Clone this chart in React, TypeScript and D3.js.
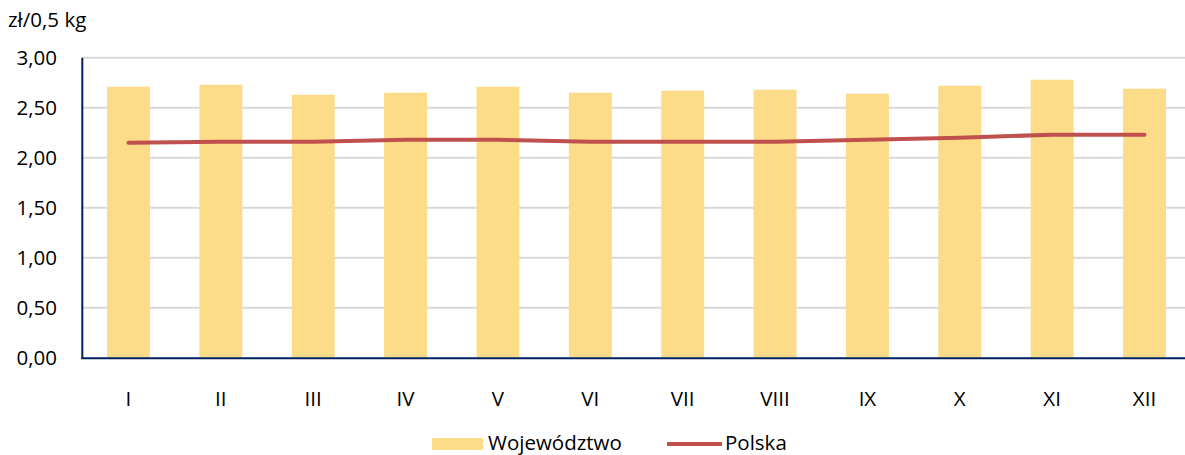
import React from "react";
import * as d3 from "d3";

const categories = ["I", "II", "III", "IV", "V", "VI", "VII", "VIII", "IX", "X", "XI", "XII"];
const wojewodztwo = [2.71, 2.73, 2.63, 2.65, 2.71, 2.65, 2.67, 2.68, 2.64, 2.72, 2.78, 2.69];
const polska = [2.15, 2.16, 2.16, 2.18, 2.18, 2.16, 2.16, 2.16, 2.18, 2.2, 2.23, 2.23];
const yTicks = [0, 0.5, 1, 1.5, 2, 2.5, 3];
const unitLabel = "zł/0,5 kg";
const seriesNames = ["Województwo", "Polska"];

const W = 1185;
const H = 455;
const FONT = "'Open Sans', sans-serif";
const FS = 20.5;
const BAR = "#FCDC88";
const LINE = "#C0504D";
const AXIS = "#002060";

export default function App() {
  const left = 82.3;
  const right = 1190.7;
  const top = 57.7;
  const bottom = 357.7;
  const x = d3.scaleBand<string>().domain(categories).range([left, right]).paddingInner(0.535).paddingOuter(0.2675);
  const y = d3.scaleLinear().domain([0, 3]).range([bottom, top]);
  const fmt = (v: number) => v.toFixed(2).replace(".", ",");
  const cx = (c: string) => (x(c) as number) + x.bandwidth() / 2;
  const line = d3
    .line<number>()
    .x((_, i) => cx(categories[i]))
    .y((v) => y(v));

  return (
    <svg width={W} height={H} style={{ position: "absolute", left: 0, top: 0, background: "#fff" }} fontFamily={FONT}>
      <text x={8} y={27} fontSize={FS} fill="#000">{unitLabel}</text>
      {yTicks.map((t) => (
        <g key={t}>
          {t > 0 && <line x1={left} x2={W} y1={y(t)} y2={y(t)} stroke="#D9D9D9" strokeWidth={2} />}
          <text x={57} y={y(t)} dy="0.35em" textAnchor="end" fontSize={FS} fill="#000">{fmt(t)}</text>
        </g>
      ))}
      {categories.map((c, i) => (
        <rect key={c} x={x(c)} y={y(wojewodztwo[i])} width={x.bandwidth()} height={bottom - y(wojewodztwo[i])} fill={BAR} />
      ))}
      <line x1={left} x2={left} y1={top} y2={bottom + 1} stroke={AXIS} strokeWidth={2} />
      <line x1={left - 1} x2={W} y1={bottom + 0.5} y2={bottom + 0.5} stroke={AXIS} strokeWidth={2} />
      <path d={line(polska) || ""} fill="none" stroke={LINE} strokeWidth={4} strokeLinecap="round" strokeLinejoin="round" />
      {categories.map((c) => (
        <text key={c} x={cx(c)} y={406} textAnchor="middle" fontSize={FS} fill="#000">{c}</text>
      ))}
      <rect x={432} y={438} width={51} height={12} fill={BAR} />
      <text x={488} y={450} fontSize={FS} fill="#000">{seriesNames[0]}</text>
      <line x1={667} x2={722} y1={444} y2={444} stroke={LINE} strokeWidth={4} />
      <text x={725} y={450} fontSize={FS} fill="#000">{seriesNames[1]}</text>
    </svg>
  );
}
